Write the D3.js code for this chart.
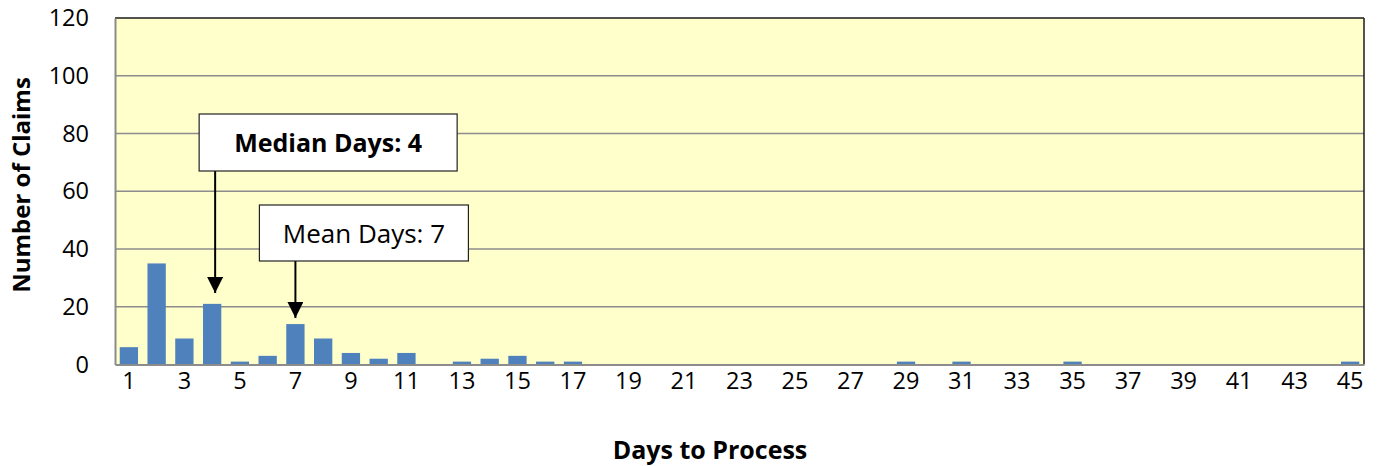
<!DOCTYPE html>
<html>
<head>
<meta charset="utf-8">
<script src="https://cdn.jsdelivr.net/npm/d3@7"></script>
<style>
  html, body { margin: 0; padding: 0; background: #ffffff; }
  svg { display: block; font-family: "Open Sans", Lato, sans-serif; }
</style>
</head>
<body>
<svg id="chart" width="1379" height="466"></svg>
<script>
// Days taken to process each claim (1..45) and how many claims took that long
const days = d3.range(1, 46);
const claimCounts = [
  6, 35, 9, 21, 1, 3, 14, 9, 4, 2,
  4, 0, 1, 2, 3, 1, 1, 0, 0, 0,
  0, 0, 0, 0, 0, 0, 0, 0, 1, 0,
  1, 0, 0, 0, 1, 0, 0, 0, 0, 0,
  0, 0, 0, 0, 1
];
const yTicks = [0, 20, 40, 60, 80, 100, 120];
const xTickDays = days.filter(d => d % 2 === 1);

// Summary callouts pointing at a day
const callouts = [
  { day: 4, label: "Median Days: 4", bold: true },
  { day: 7, label: "Mean Days: 7", bold: false }
];

const FONT = "'Open Sans', Lato, sans-serif";
const svg = d3.select("#chart");
const plot = { left: 115, right: 1364, top: 18, bottom: 364.5 };

const x = d3.scaleBand()
  .domain(days)
  .range([plot.left, plot.right])
  .paddingInner(0.34)
  .paddingOuter(0.17);

const y = d3.scaleLinear()
  .domain([0, 120])
  .range([plot.bottom, plot.top]);

// Plot background
svg.append("rect")
  .attr("x", plot.left).attr("y", plot.top)
  .attr("width", plot.right - plot.left)
  .attr("height", plot.bottom - plot.top)
  .attr("fill", "#FFFFCC");

// Horizontal gridlines
svg.append("g")
  .selectAll("line")
  .data(yTicks.filter(t => t > 0 && t < 120))
  .join("line")
  .attr("x1", plot.left).attr("x2", plot.right)
  .attr("y1", d => y(d)).attr("y2", d => y(d))
  .attr("stroke", "#8c8c8c")
  .attr("stroke-width", 1.3);

// Bars
svg.append("g")
  .selectAll("rect")
  .data(days.map((d, i) => ({ day: d, count: claimCounts[i] })).filter(d => d.count > 0))
  .join("rect")
  .attr("x", d => x(d.day))
  .attr("width", x.bandwidth())
  .attr("y", d => y(d.count))
  .attr("height", d => y(0) - y(d.count))
  .attr("fill", "#4F81BD");

// Frame: dark top/right, grey axis lines left/bottom
svg.append("line")
  .attr("x1", plot.left).attr("x2", plot.right)
  .attr("y1", plot.top).attr("y2", plot.top)
  .attr("stroke", "#1a1a1a").attr("stroke-width", 1.5);
svg.append("line")
  .attr("x1", plot.right).attr("x2", plot.right)
  .attr("y1", plot.top).attr("y2", plot.bottom)
  .attr("stroke", "#1a1a1a").attr("stroke-width", 1.5);

const yAxis = svg.append("g")
  .attr("transform", `translate(${plot.left},0)`)
  .call(d3.axisLeft(y).tickValues(yTicks).tickSize(0).tickPadding(26).tickFormat(d3.format("d")));
yAxis.select(".domain").attr("stroke", "#8c8c8c").attr("stroke-width", 2);
yAxis.selectAll("text")
  .attr("font-size", 23.5)
  .attr("fill", "#000")
  .attr("font-family", FONT);

const xAxis = svg.append("g")
  .attr("transform", `translate(0,${plot.bottom})`)
  .call(d3.axisBottom(x).tickValues(xTickDays).tickSize(0).tickPadding(8));
xAxis.select(".domain").attr("stroke", "#8c8c8c").attr("stroke-width", 2);
xAxis.selectAll("text")
  .attr("font-size", 23.5)
  .attr("fill", "#000")
  .attr("font-family", FONT);

// Axis titles
svg.append("text")
  .attr("x", 710)
  .attr("y", 459)
  .attr("text-anchor", "middle")
  .attr("font-size", 25)
  .attr("font-weight", "bold")
  .text("Days to Process");

svg.append("text")
  .attr("transform", "translate(30,185) rotate(-90)")
  .attr("text-anchor", "middle")
  .attr("font-size", 24)
  .attr("font-weight", "bold")
  .text("Number of Claims");

// Callout boxes with arrows
const defs = svg.append("defs");
defs.append("marker")
  .attr("id", "arrowhead")
  .attr("viewBox", "0 0 10 10")
  .attr("refX", 10).attr("refY", 5)
  .attr("markerWidth", 8).attr("markerHeight", 8)
  .attr("markerUnits", "strokeWidth")
  .attr("orient", "auto")
  .append("path")
  .attr("d", "M0,0 L10,5 L0,10 Z")
  .attr("fill", "#000");

const boxLayout = [
  { dx: -16, top: 114, width: 258, height: 57, tip: 293, ax: 3, size: 25, base: 9 },
  { dx: -36, top: 205, width: 209, height: 56, tip: 318, ax: 0, size: 26, base: 10 }
];

callouts.forEach((c, i) => {
  const L = boxLayout[i];
  const ax = x(c.day) + x.bandwidth() / 2 + L.ax;
  const g = svg.append("g");
  g.append("line")
    .attr("x1", ax).attr("x2", ax)
    .attr("y1", L.top + L.height).attr("y2", L.tip)
    .attr("stroke", "#000").attr("stroke-width", 2)
    .attr("marker-end", "url(#arrowhead)");
  g.append("rect")
    .attr("x", ax + L.dx).attr("y", L.top)
    .attr("width", L.width).attr("height", L.height)
    .attr("fill", "#fff")
    .attr("stroke", "#222").attr("stroke-width", 1.2);
  g.append("text")
    .attr("x", ax + L.dx + L.width / 2)
    .attr("y", L.top + L.height / 2 + L.base)
    .attr("text-anchor", "middle")
    .attr("font-size", L.size)
    .attr("font-weight", c.bold ? "bold" : "normal")
    .text(c.label);
});
</script>
</body>
</html>
